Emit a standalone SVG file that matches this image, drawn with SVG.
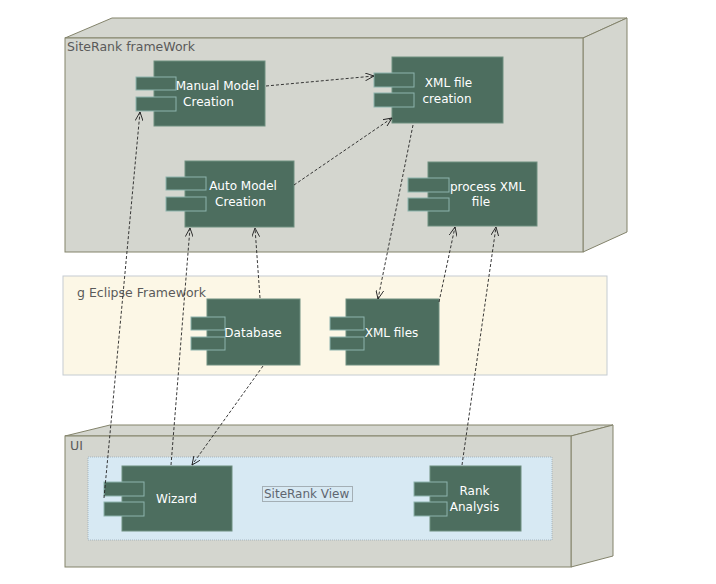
<svg xmlns="http://www.w3.org/2000/svg" width="716" height="584" viewBox="0 0 716 584">
<style>
.box{fill:#d4d6cf;stroke:#83836b;stroke-width:1}
.lbl{font-family:"DejaVu Sans",Verdana,sans-serif;font-size:12.5px;fill:#5a5a5a}
.comp{fill:#4d6e5f;stroke:#6f8f80;stroke-width:1}
.port{fill:#4d6e5f;stroke:#8db3ad;stroke-width:1}
.ct{font-family:"DejaVu Sans",Verdana,sans-serif;font-size:12px;fill:#ffffff;text-anchor:middle}
.dep{fill:none;stroke:#222;stroke-width:0.9;stroke-dasharray:3,2}
</style>
<defs>
<marker id="arr" markerWidth="10" markerHeight="8" refX="9" refY="4" orient="auto" markerUnits="userSpaceOnUse">
<path d="M0,0 L9,4 L0,8" fill="none" stroke="#222" stroke-width="0.9"/>
</marker>
</defs>
<rect width="716" height="584" fill="#ffffff"/>

<g id="siterank-framework">
<polygon class="box" points="65,38 112,18 627,18 583,38"/>
<polygon class="box" points="583,38 627,18 627,232 583,252"/>
<rect class="box" x="65" y="38" width="518" height="214"/>
<text class="lbl" x="67" y="51">SiteRank frameWork</text>
</g>

<g id="eclipse-framework">
<rect x="63" y="276" width="544" height="99" fill="#fcf7e6" stroke="#c5ccd2" stroke-width="1"/>
<text class="lbl" x="77" y="297">g Eclipse Framework</text>
</g>

<g id="ui">
<polygon class="box" points="65,436 110,425 613,425 571,436"/>
<polygon class="box" points="571,436 613,425 613,556 571,567"/>
<rect class="box" x="65" y="436" width="506" height="131"/>
<text class="lbl" x="70" y="450">UI</text>
</g>

<g id="siterank-view">
<rect x="88" y="457" width="464" height="83" fill="#d7e9f3" stroke="#9aaab5" stroke-width="0.8" stroke-dasharray="1,1"/>
<rect x="262.5" y="486.5" width="90" height="15" fill="none" stroke="#555" stroke-width="0.8" stroke-dasharray="1,1"/>
<text class="lbl" x="264" y="498" style="fill:#5f6670;font-size:12px">SiteRank View</text>
</g>

<g id="manual-model-creation">
<rect class="comp" x="154" y="61" width="111" height="65"/>
<rect class="port" x="136" y="77" width="40" height="13"/>
<rect class="port" x="136" y="97" width="40" height="14"/>
<text class="ct" x="217.5" y="90">Manual Model</text>
<text class="ct" x="208.5" y="106">Creation</text>
</g>

<g id="xml-file-creation">
<rect class="comp" x="392" y="57" width="111" height="66"/>
<rect class="port" x="374" y="73" width="40" height="14"/>
<rect class="port" x="374" y="93" width="40" height="14"/>
<text class="ct" x="448.5" y="87">XML file</text>
<text class="ct" x="447" y="103">creation</text>
</g>

<g id="auto-model-creation">
<rect class="comp" x="185" y="161" width="109" height="66"/>
<rect class="port" x="166" y="177" width="40" height="13"/>
<rect class="port" x="166" y="197" width="40" height="14"/>
<text class="ct" x="243" y="190">Auto Model</text>
<text class="ct" x="240.5" y="206">Creation</text>
</g>

<g id="process-xml-file">
<rect class="comp" x="428" y="162" width="109" height="64"/>
<rect class="port" x="408" y="178" width="41" height="14"/>
<rect class="port" x="408" y="198" width="41" height="13"/>
<text class="ct" x="487.5" y="191">process XML</text>
<text class="ct" x="481" y="206">file</text>
</g>

<g id="database">
<rect class="comp" x="207" y="299" width="93" height="66"/>
<rect class="port" x="191" y="317" width="34" height="13"/>
<rect class="port" x="191" y="337" width="34" height="13"/>
<text class="ct" x="253" y="337">Database</text>
</g>

<g id="xml-files">
<rect class="comp" x="346" y="299" width="93" height="66"/>
<rect class="port" x="330" y="317" width="34" height="13"/>
<rect class="port" x="330" y="337" width="34" height="13"/>
<text class="ct" x="391.5" y="337">XML files</text>
</g>

<g id="wizard">
<rect class="comp" x="122" y="466" width="110" height="65"/>
<rect class="port" x="104" y="482" width="40" height="14"/>
<rect class="port" x="104" y="502" width="40" height="14"/>
<text class="ct" x="176.5" y="503">Wizard</text>
</g>

<g id="rank-analysis">
<rect class="comp" x="430" y="466" width="91" height="65"/>
<rect class="port" x="414" y="482" width="33" height="14"/>
<rect class="port" x="414" y="502" width="33" height="14"/>
<text class="ct" x="474.5" y="495">Rank</text>
<text class="ct" x="474.5" y="511">Analysis</text>
</g>

<g id="connectors">
<line class="dep" x1="266" y1="86" x2="374" y2="76" marker-end="url(#arr)"/>
<line class="dep" x1="294" y1="185" x2="392" y2="118" marker-end="url(#arr)"/>
<line class="dep" x1="413" y1="125" x2="378" y2="299" marker-end="url(#arr)"/>
<line class="dep" x1="104" y1="498" x2="140" y2="112" marker-end="url(#arr)"/>
<line class="dep" x1="171" y1="465" x2="190" y2="228" marker-end="url(#arr)"/>
<line class="dep" x1="260" y1="298" x2="255" y2="228" marker-end="url(#arr)"/>
<line class="dep" x1="263" y1="366" x2="192" y2="465" marker-end="url(#arr)"/>
<line class="dep" x1="439" y1="302" x2="455" y2="227" marker-end="url(#arr)"/>
<line class="dep" x1="462" y1="465" x2="496" y2="227" marker-end="url(#arr)"/>
</g>
</svg>
